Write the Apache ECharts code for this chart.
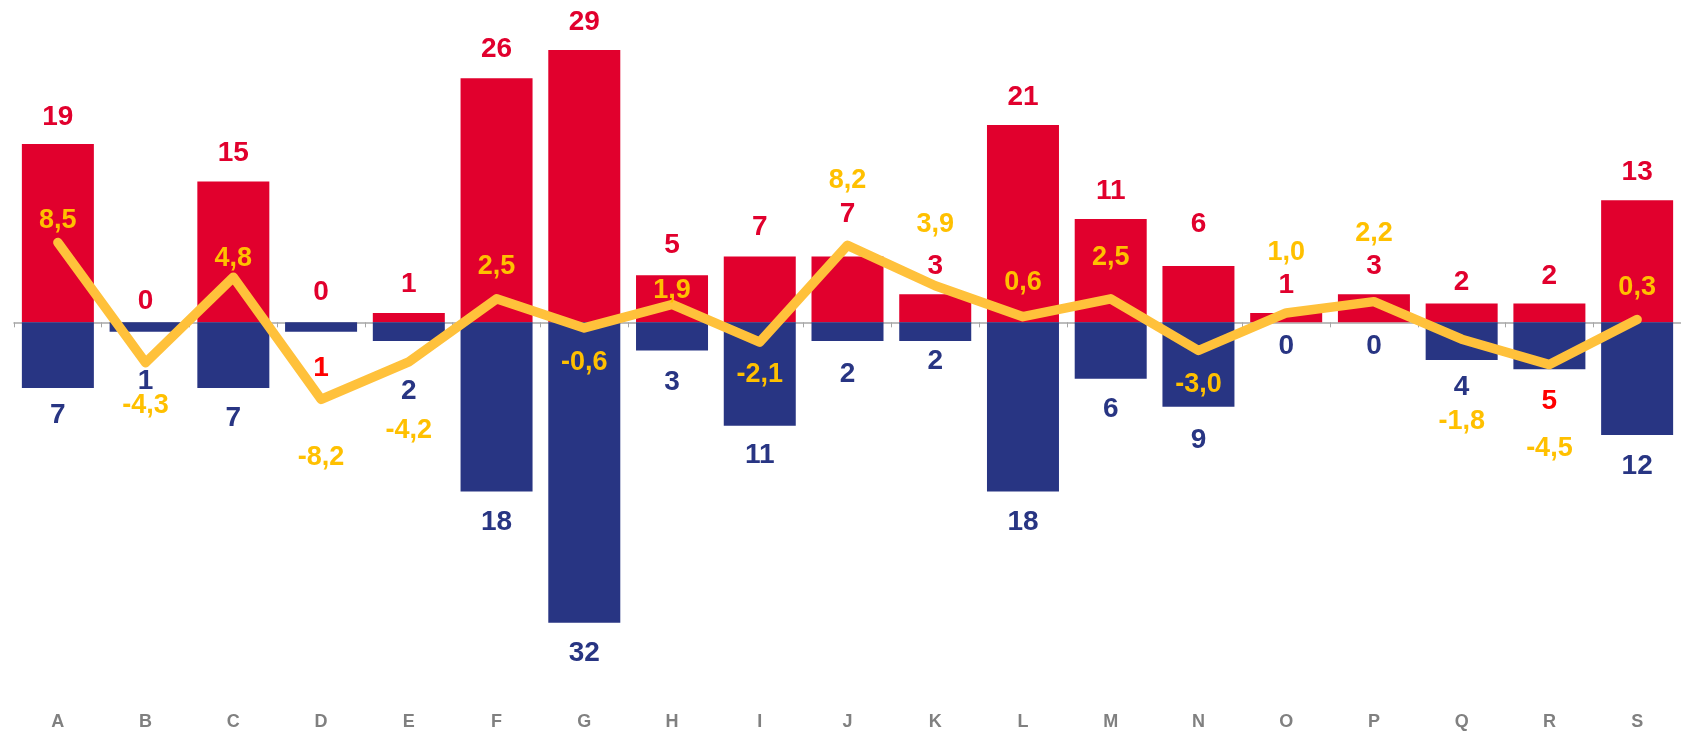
<!DOCTYPE html>
<html>
<head>
<meta charset="utf-8">
<script src="https://cdn.jsdelivr.net/npm/echarts@6/dist/echarts.min.js"></script>
<style>
html,body{margin:0;padding:0;background:#fff;}
#chart{width:1681px;height:731px;}
</style>
</head>
<body>
<div id="chart"></div>
<script>
// ---- data ----
const categories = ['A','B','C','D','E','F','G','H','I','J','K','L','M','N','O','P','Q','R','S'];
const redValues  = [19, 0, 15, 0, 1, 26, 29, 5, 7, 7, 3, 21, 11, 6, 1, 3, 2, 2, 13];
const blueValues = [7, 1, 7, 1, 2, 18, 32, 3, 11, 2, 2, 18, 6, 9, 0, 0, 4, 5, 12];
const lineValues = [8.5, -4.3, 4.8, -8.2, -4.2, 2.5, -0.6, 1.9, -2.1, 8.2, 3.9, 0.6, 2.5, -3.0, 1.0, 2.2, -1.8, -4.5, 0.3];

// ---- label nudges (px, vertical) ----
const redLabelDy  = [1, 7, 0, -2, -1, -1, 0, -2, -1, -14, 0, 0, 0, -14, 0, 0, 7, 1, 0];
const blueLabelDy = [-3, 20, 0, 7, 20, 1, 0, 2, 0, 3, -10, 1, 1, 3, -6, -6, -3, 2, 1];
const lineLabelDy = [-22, 43, -19, 58, 69, -32, 35, -14, 32, -65, -61, -34, -41, 34, -60, -68, 82, 84, -32];
const blueLabelRedIdx = [3, 17];

const RED = '#E1002D', BLUE = '#283583', YELLOW = '#FFC13B', YELLOW_TXT = '#FFC000';
const FONT = 'Liberation Sans, Arial, sans-serif';

const chart = echarts.init(document.getElementById('chart'));
chart.setOption({
  animation: false,
  backgroundColor: '#ffffff',
  grid: { left: 14, right: -8, top: 3, bottom: 32, containLabel: false },
  xAxis: [
    {
      type: 'category', data: categories,
      axisLine: { onZero: true, lineStyle: { color: '#A6A6A6', width: 1.5 } },
      axisTick: { show: true, length: 5, lineStyle: { color: '#A6A6A6' } },
      axisLabel: { show: false }
    },
    {
      type: 'category', data: categories, position: 'bottom',
      axisLine: { show: false, onZero: false }, axisTick: { show: false },
      axisLabel: { color: '#808080', fontSize: 18, fontWeight: 'bold', fontFamily: FONT, margin: 15 }
    }
  ],
  yAxis: { type: 'value', min: -40, max: 34, show: false, splitLine: { show: false } },
  series: [
    {
      type: 'bar', name: 'pos', xAxisIndex: 0, barWidth: 72, barGap: '-100%',
      itemStyle: { color: RED },
      label: { show: true, position: 'top', distance: 14, color: RED, fontSize: 28, fontWeight: 'bold', fontFamily: FONT },
      data: redValues.map((v, i) => ({ value: v, label: { offset: [0, redLabelDy[i]] } }))
    },
    {
      type: 'bar', name: 'neg', xAxisIndex: 0, barWidth: 72, barGap: '-100%',
      itemStyle: { color: BLUE },
      label: { show: true, position: 'bottom', distance: 16, color: BLUE, fontSize: 28, fontWeight: 'bold', fontFamily: FONT,
               formatter: p => String(Math.abs(p.value)) },
      data: blueValues.map((v, i) => {
        const lab = { offset: [0, blueLabelDy[i]] };
        if (blueLabelRedIdx.includes(i)) lab.color = '#FF0000';
        return { value: -v, label: lab };
      })
    },
    {
      type: 'line', name: 'line', xAxisIndex: 0, z: 5,
      symbol: 'circle', symbolSize: 2, itemStyle: { color: YELLOW },
      lineStyle: { color: YELLOW, width: 9.5, cap: 'round', join: 'round' },
      label: { show: true, position: 'inside', color: YELLOW_TXT, fontSize: 27, fontWeight: 'bold', fontFamily: FONT,
               formatter: p => p.value.toFixed(1).replace('.', ',') },
      data: lineValues.map((v, i) => ({ value: v, label: { offset: [0, lineLabelDy[i]] } }))
    }
  ]
});
</script>
</body>
</html>
